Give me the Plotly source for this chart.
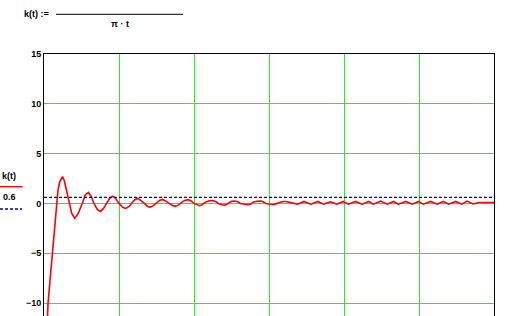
import plotly.graph_objects as go

# Data (t in plot units 0..30, k(t) values)
t_vals = [
    0.08, 0.2, 0.27, 0.41, 0.56, 0.69, 0.83, 0.93, 1.05, 1.23, 1.35, 1.48, 1.67,
    1.85, 2.05, 2.28, 2.55, 2.75, 2.96, 3.15, 3.33, 3.55, 3.76, 3.97, 4.17,
    4.4, 4.6, 4.8, 5.0, 5.25, 5.45, 5.68, 5.88, 6.08, 6.27, 6.47, 6.7, 6.9,
    7.08, 7.27, 7.5, 7.7, 7.89, 8.08, 8.35, 8.58, 8.78, 8.98, 9.18, 9.38,
    9.6, 9.78, 10.0, 10.22, 10.38, 10.55, 10.75, 11.02, 11.22, 11.44, 11.62,
    11.88, 12.04, 12.18, 12.38, 12.51, 12.71, 12.93, 13.11, 13.38, 13.58, 13.8,
    13.94, 14.2, 14.45, 14.62, 14.8, 15.05, 15.3, 15.49, 15.68, 15.93, 16.12,
    16.9, 17.33, 17.78, 18.27, 18.63, 19.11, 19.52, 19.94, 20.28, 20.78, 21.2,
    21.65, 21.95, 22.45, 22.88, 23.3, 23.62, 24.12, 24.55, 24.97, 25.28, 25.78,
    26.22, 26.62, 26.98, 27.45, 27.85, 28.2, 28.6, 29.0, 29.5, 30.0,
]
k_vals = [
    -14.0, -12.5, -10.0, -7.5, -5.0, -2.5, 0.0, 1.3, 2.2, 2.7, 2.3, 1.4, 0.0,
    -1.0, -1.5, -1.0, 0.0, 0.85, 1.1, 0.7, 0.0, -0.6, -0.8, -0.5, 0.0,
    0.55, 0.73, 0.45, 0.0, -0.38, -0.5, -0.3, 0.1, 0.4, 0.5, 0.3, 0.0, -0.3,
    -0.37, -0.25, 0.05, 0.3, 0.4, 0.28, 0.0, -0.22, -0.27, -0.15, 0.1, 0.3,
    0.38, 0.28, 0.0, -0.18, -0.23, -0.12, 0.12, 0.27, 0.3, 0.2, 0.0,
    -0.13, -0.17, -0.08, 0.12, 0.22, 0.24, 0.16, 0.0, -0.1, -0.13, -0.05,
    0.12, 0.22, 0.25, 0.17, 0.0, -0.08, -0.1, -0.02, 0.1, 0.2, 0.2,
    -0.07, 0.2, -0.07, 0.2, -0.07, 0.17, -0.07, 0.2, -0.07, 0.2, -0.07,
    0.2, -0.07, 0.23, -0.07, 0.2, -0.07, 0.2, -0.07, 0.2, -0.07, 0.2,
    -0.07, 0.2, -0.07, 0.2, -0.07, 0.23, -0.05, 0.1, 0.1, 0.1,
]

ref_level = 0.6
x_range = [0, 30]
y_range = [-11.3, 15]
y_ticks = [-10, -5, 0, 5, 10, 15]
y_tick_labels = ["−10", "−5", "0", "5", "10", "15"]
x_grid = [0, 5, 10, 15, 20, 25, 30]

W, H = 526, 316
L, R, T, B = 44, 32, 54, 0
PW, PH = W - L - R, H - T - B

def px(x):
    return (x - L) / PW

def py(y):
    return (H - B - y) / PH

FONT = "Liberation Sans"
GREEN = "#22ee22"

fig = go.Figure()
fig.add_trace(go.Scatter(
    x=t_vals, y=k_vals, mode="lines",
    line=dict(color="#ff0000", width=1.6), showlegend=False, hoverinfo="skip",
))
fig.add_trace(go.Scatter(
    x=x_range, y=[ref_level, ref_level], mode="lines",
    line=dict(color="#0000a8", width=1.3, dash="3px,2px"), showlegend=False,
))

fig.update_layout(
    width=W, height=H,
    margin=dict(l=L, r=R, t=T, b=B, pad=0),
    paper_bgcolor="white", plot_bgcolor="white",
    font=dict(family=FONT, size=9, color="black"),
    xaxis=dict(
        range=x_range, tickvals=x_grid, showticklabels=False, ticks="",
        showgrid=True, gridcolor=GREEN, gridwidth=1, zeroline=False,
        showline=True, linecolor="black", linewidth=1, mirror=True,
    ),
    yaxis=dict(
        range=y_range, tickvals=y_ticks,
        ticktext=["<b>" + s + "</b>" for s in y_tick_labels],
        ticks="", showgrid=True, gridcolor=GREEN, gridwidth=1, zeroline=False,
        showline=True, linecolor="black", linewidth=1, mirror=True,
        tickfont=dict(family=FONT, size=9, color="black"),
    ),
)

# Left-side legend (Mathcad style)
fig.add_annotation(xref="paper", yref="paper", x=px(0), y=py(176), text="<b>k(t)</b>",
                   showarrow=False, xanchor="left", yanchor="middle",
                   font=dict(family=FONT, size=9, color="black"))
fig.add_shape(type="line", xref="paper", yref="paper", x0=px(0), x1=px(22.7),
              y0=py(186.7), y1=py(186.7), line=dict(color="#ff0000", width=1.3))
fig.add_annotation(xref="paper", yref="paper", x=px(1), y=py(197), text="<b>0.6</b>",
                   showarrow=False, xanchor="left", yanchor="middle",
                   font=dict(family=FONT, size=9, color="black"))
fig.add_shape(type="line", xref="paper", yref="paper", x0=px(0), x1=px(22),
              y0=py(209), y1=py(209), line=dict(color="#0000a8", width=1.3, dash="3px,2px"))

# Formula header (partially cut off)
fig.add_annotation(xref="paper", yref="paper", x=px(22), y=py(14), text="<b>k(t) :=</b>",
                   showarrow=False, xanchor="left", yanchor="middle",
                   font=dict(family=FONT, size=9, color="black"))
fig.add_shape(type="line", xref="paper", yref="paper", x0=px(56), x1=px(183),
              y0=py(14.3), y1=py(14.3), line=dict(color="black", width=1))
fig.add_annotation(xref="paper", yref="paper", x=px(120), y=py(24), text="<b>π · t</b>",
                   showarrow=False, xanchor="center", yanchor="middle",
                   font=dict(family=FONT, size=9, color="black"))

fig.write_html("out.html")
